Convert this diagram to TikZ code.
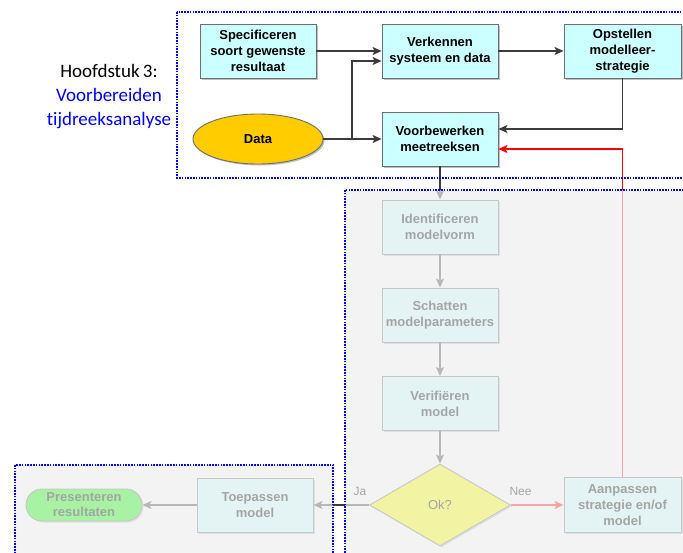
\documentclass[tikz,border=0pt]{standalone}
\usepackage{fontspec}
\setmainfont{Liberation Sans}
\newfontfamily\calib[Ligatures=NoCommon]{Carlito}
\usetikzlibrary{arrows.meta,shapes.geometric,shadows}
\definecolor{boxfill}{RGB}{204,255,255}
\definecolor{boxline}{RGB}{110,110,110}
\definecolor{conn}{RGB}{60,60,60}
\definecolor{datafill}{RGB}{255,204,0}
\definecolor{okfill}{RGB}{255,255,0}
\definecolor{presfill}{RGB}{10,250,0}
\definecolor{veil}{RGB}{239,239,239}
\definecolor{frameblue}{RGB}{0,0,255}
\tikzset{
  procbox/.style={draw=boxline, line width=0.9pt, fill=boxfill, align=center,
    minimum width=116pt, minimum height=54pt, inner sep=2pt,
    font=\bfseries\fontsize{13}{16}\selectfont,
    drop shadow={shadow xshift=1.5pt, shadow yshift=-1.5pt, fill=black, opacity=0.25}},
  conn/.style={draw=conn, line width=1.2pt, -{Stealth[length=9pt,width=8pt,inset=2pt]}},
  redconn/.style={draw=red, line width=1.5pt, -{Stealth[length=9pt,width=8pt,inset=2pt]}},
  frame/.style={draw=frameblue, line width=1.6pt, dash pattern=on 1.6pt off 1.2pt},
  lbl/.style={font=\fontsize{12}{14}\selectfont, text=black}
}
\begin{document}
\begin{tikzpicture}[x=1pt,y=-1pt]
\useasboundingbox (0,0) rectangle (683,552);
\clip (0,0) rectangle (683,552);
\fill[white] (0,0) rectangle (683,552);

% left title
\node[align=center, font=\calib\fontsize{19}{24}\selectfont] (title) at (109,97)
  {Hoofdstuk\,3:\\\textcolor{frameblue}{Voorbereiden}\\\textcolor{frameblue}{tijdreeksanalyse}};

% top nodes
\node[procbox] (spec) at (258,51) {Specificeren\\soort gewenste\\resultaat};
\node[procbox] (verk) at (440,51) {Verkennen\\systeem en data};
\node[procbox, minimum width=117pt] (opst) at (622.5,51) {Opstellen\\modelleer-\\strategie};
\node[ellipse, draw=boxline, line width=0.9pt, fill=datafill, minimum width=130pt, minimum height=50pt,
  inner sep=0pt, font=\bfseries\fontsize{13}{16}\selectfont,
  drop shadow={shadow xshift=1.5pt, shadow yshift=-1.5pt, fill=black, opacity=0.25}] (data) at (258,139) {Data};
\node[procbox] (voor) at (440,139) {Voorbewerken\\meetreeksen};

% middle column
\node[procbox] (iden) at (440,227) {Identificeren\\modelvorm};
\node[procbox] (scha) at (440,315) {Schatten\\modelparameters};
\node[procbox] (veri) at (440,403.5) {Verifiëren\\model};
\node[diamond, draw=boxline, line width=0.9pt, fill=okfill, minimum width=141pt, minimum height=82pt,
  inner sep=0pt, font=\fontsize{13}{16}\selectfont,
  drop shadow={shadow xshift=1.5pt, shadow yshift=-1.5pt, fill=black, opacity=0.25}] (ok) at (440,505) {Ok?};
\node[procbox, minimum width=117pt, minimum height=55pt] (aanp) at (622.5,505) {Aanpassen\\strategie en/of\\model};
\node[procbox] (toep) at (255,505) {Toepassen\\model};
\node[draw=boxline, line width=0.9pt, fill=presfill, rounded corners=16pt, align=center,
  minimum width=116pt, minimum height=32pt, inner sep=1pt,
  font=\bfseries\fontsize{13}{15}\selectfont,
  drop shadow={shadow xshift=1.5pt, shadow yshift=-1.5pt, fill=black, opacity=0.25}] (pres) at (84,505) {Presenteren\\resultaten};

% connectors
\draw[conn] (spec.east) -- (verk.west);
\draw[conn] (verk.east) -- (opst.west);
\coordinate (dsplit) at (352,139);
\draw[conn] (data.east) -- (voor.west);
\draw[conn] (dsplit) |- ([yshift=-10pt]verk.west);
\draw[conn] (opst.south) |- ([yshift=10pt]voor.east);
\draw[redconn] (aanp.north) |- ([yshift=-10pt]voor.east);
\draw[conn] (voor.south) -- (iden.north);
\draw[conn] (iden.south) -- (scha.north);
\draw[conn] (scha.south) -- (veri.north);
\draw[conn] (veri.south) -- (ok.north);
\draw[conn] (ok.west) -- (toep.east);
\draw[redconn] (ok.east) -- (aanp.west);
\draw[conn] (toep.west) -- (pres.east);
\node[lbl, anchor=south west] (ja) at (350,499) {Ja};
\node[lbl, anchor=south west] (nee) at (506,499) {Nee};

% veils over faded regions
\fill[veil, opacity=0.69] (345,190) rectangle (700,560);
\fill[veil, opacity=0.69] (15,465) rectangle (333,560);

% dotted frames
\draw[frame] (177,12) rectangle (700,178);
\draw[frame] (345,190) rectangle (700,560);
\draw[frame] (15,465) rectangle (333,560);
\end{tikzpicture}
\end{document}
